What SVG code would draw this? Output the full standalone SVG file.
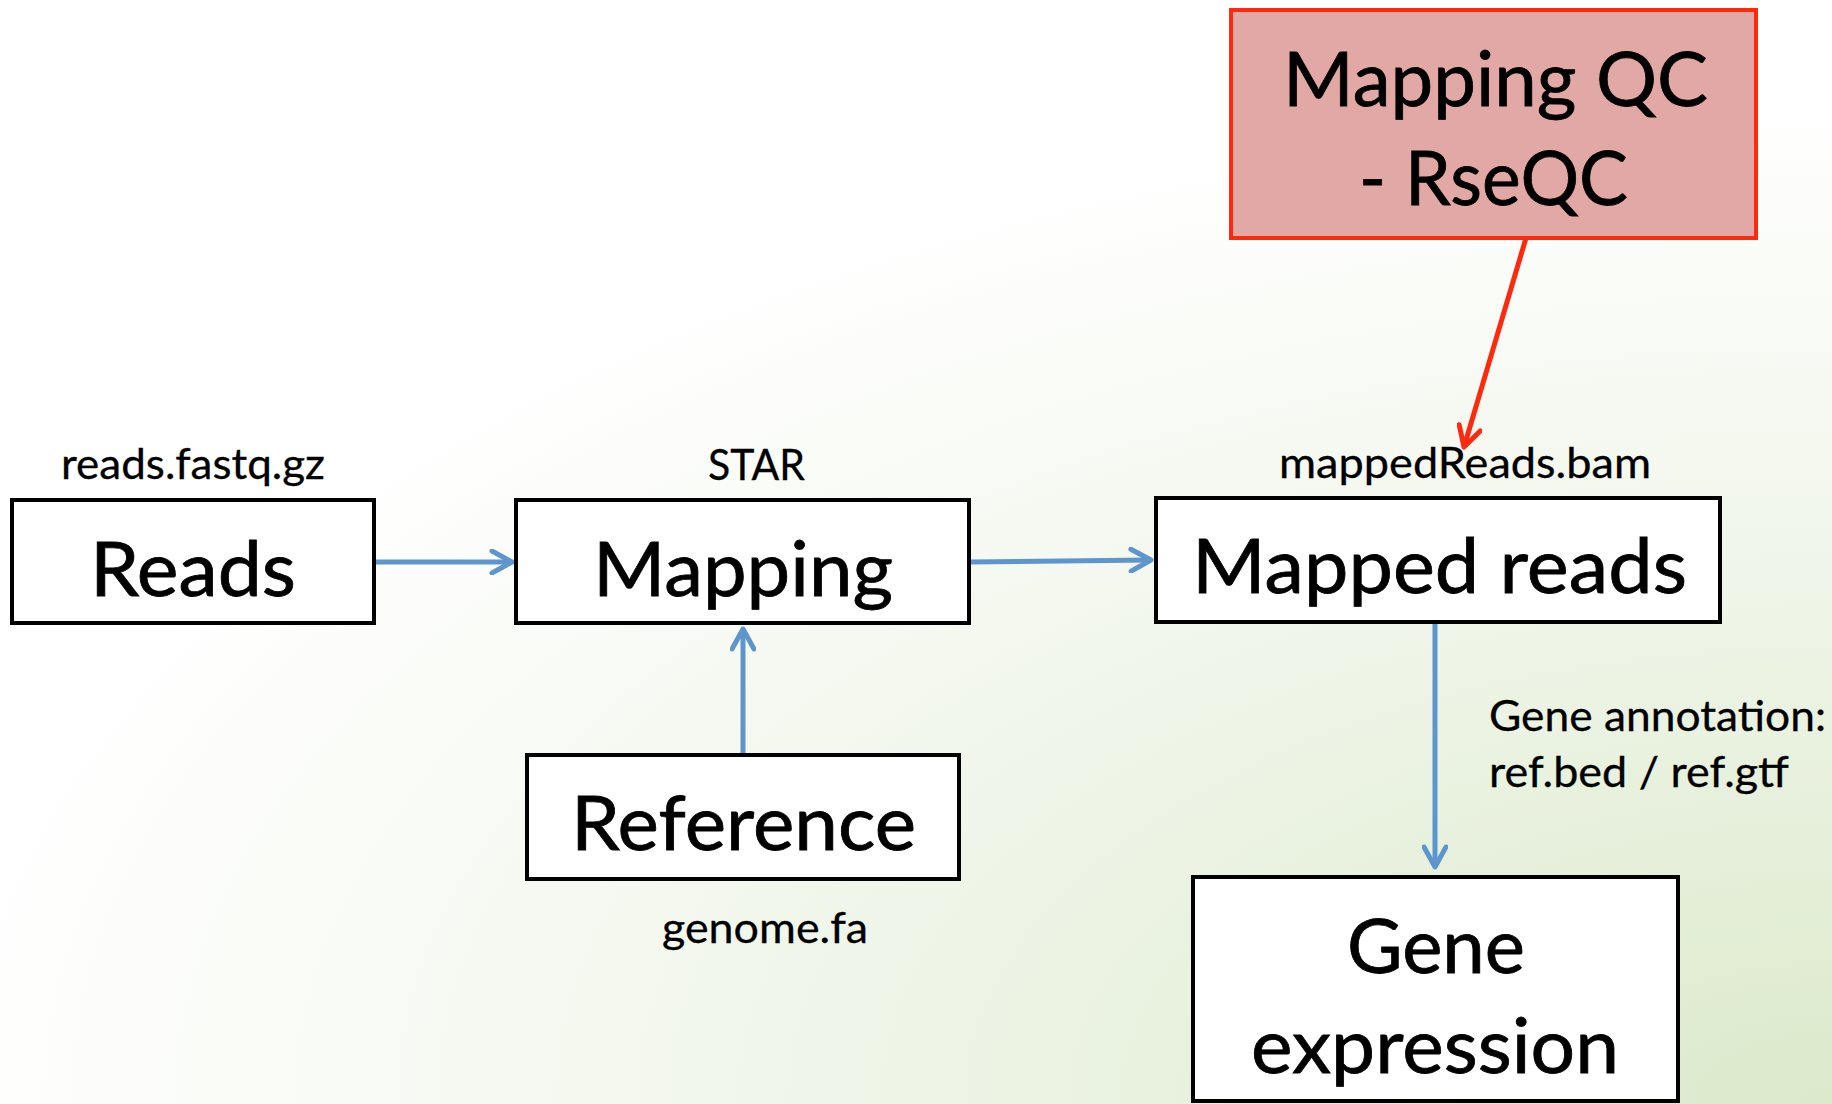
<svg xmlns="http://www.w3.org/2000/svg" width="1832" height="1104" viewBox="0 0 1832 1104">
  <defs>
    <radialGradient id="bg" gradientUnits="userSpaceOnUse" cx="0" cy="0" r="1" gradientTransform="translate(1832,1104) scale(1900,1000)">
      <stop offset="0" stop-color="#DCE9CB"/>
      <stop offset="0.3" stop-color="#E7F0DC"/>
      <stop offset="0.65" stop-color="#F4F8EF"/>
      <stop offset="1" stop-color="#FFFFFF"/>
    </radialGradient>
    <marker id="ab" viewBox="0 0 26 26" refX="23" refY="13" markerWidth="26" markerHeight="26" markerUnits="userSpaceOnUse" orient="auto">
      <path d="M3,2 L23,13 L3,24" fill="none" stroke="#5F95CD" stroke-width="5" stroke-linecap="round" stroke-linejoin="round"/>
    </marker>
    <marker id="ar" viewBox="0 0 26 26" refX="23" refY="13" markerWidth="26" markerHeight="26" markerUnits="userSpaceOnUse" orient="auto">
      <path d="M3,2 L23,13 L3,24" fill="none" stroke="#FF2A0D" stroke-width="5" stroke-linecap="round" stroke-linejoin="round"/>
    </marker>
  </defs>
  <style>
    .box { fill: #FFFFFF; stroke: #000000; stroke-width: 4; }
    .qc { fill: #E2A8A6; stroke: #FF2A0D; stroke-width: 4; }
    .big { font-family: Lato, "Liberation Sans", sans-serif; font-size: 76px; fill: #000; stroke: #000; stroke-width: 0.8px; }
    .lbl { font-family: Lato, "Liberation Sans", sans-serif; font-size: 43px; fill: #000; stroke: #000; stroke-width: 0.3px; }
    .blue { stroke: #5F95CD; stroke-width: 5; fill: none; marker-end: url(#ab); }
    .red { stroke: #FF2A0D; stroke-width: 5; fill: none; marker-end: url(#ar); }
  </style>
  <rect x="0" y="0" width="1832" height="1104" fill="url(#bg)"/>

  <g id="connectors">
    <line class="blue" x1="374" y1="562" x2="512" y2="562"/>
    <line class="blue" x1="970" y1="562" x2="1151" y2="560"/>
    <line class="blue" x1="743" y1="755" x2="743" y2="629"/>
    <line class="blue" x1="1435" y1="624" x2="1435" y2="867"/>
    <line class="red" x1="1526" y1="238" x2="1464" y2="447"/>
  </g>

  <g id="node-reads">
    <rect class="box" x="12" y="500" width="362" height="123"/>
    <text class="big" x="90" y="596" textLength="206" lengthAdjust="spacingAndGlyphs">Reads</text>
    <text class="lbl" x="61" y="479" textLength="264" lengthAdjust="spacingAndGlyphs">reads.fastq.gz</text>
  </g>

  <g id="node-mapping">
    <rect class="box" x="516" y="500" width="453" height="123"/>
    <text class="big" x="593" y="596" textLength="300" lengthAdjust="spacingAndGlyphs">Mapping</text>
    <text class="lbl" x="708" y="480" textLength="97" lengthAdjust="spacingAndGlyphs">STAR</text>
  </g>

  <g id="node-reference">
    <rect class="box" x="527" y="755" width="432" height="124"/>
    <text class="big" x="571" y="850" textLength="345" lengthAdjust="spacingAndGlyphs">Reference</text>
    <text class="lbl" x="662" y="943" textLength="206" lengthAdjust="spacingAndGlyphs">genome.fa</text>
  </g>

  <g id="node-mapped-reads">
    <rect class="box" x="1156" y="498" width="564" height="124"/>
    <text class="big" x="1192" y="593" textLength="495" lengthAdjust="spacingAndGlyphs">Mapped reads</text>
    <text class="lbl" x="1279" y="478" textLength="372" lengthAdjust="spacingAndGlyphs">mappedReads.bam</text>
  </g>

  <g id="node-mapping-qc">
    <rect class="qc" x="1231" y="10" width="525" height="228"/>
    <text class="big" x="1283" y="106" textLength="425" lengthAdjust="spacingAndGlyphs">Mapping QC</text>
    <text class="big" x="1359" y="205" textLength="269" lengthAdjust="spacingAndGlyphs">- RseQC</text>
  </g>

  <g id="node-gene-expression">
    <rect class="box" x="1193" y="877" width="485" height="224"/>
    <text class="big" x="1347" y="973" textLength="178" lengthAdjust="spacingAndGlyphs">Gene</text>
    <text class="big" x="1251" y="1073" textLength="368" lengthAdjust="spacingAndGlyphs">expression</text>
  </g>

  <g id="edge-label-annotation">
    <text class="lbl" x="1489" y="731" textLength="337" lengthAdjust="spacingAndGlyphs">Gene annotation:</text>
    <text class="lbl" x="1489" y="787" textLength="300" lengthAdjust="spacingAndGlyphs">ref.bed / ref.gtf</text>
  </g>
</svg>
